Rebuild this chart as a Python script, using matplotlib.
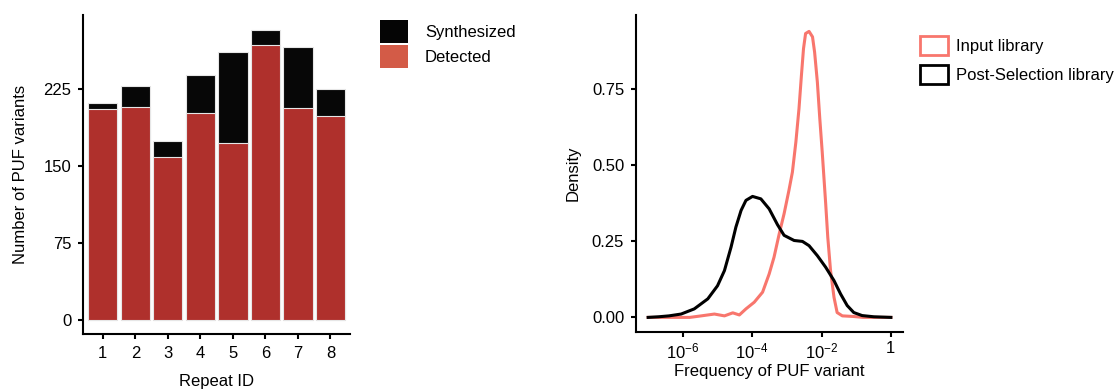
import numpy as np
import matplotlib
matplotlib.use("Agg")
import matplotlib.pyplot as plt
from matplotlib.patches import Patch

plt.rcParams['font.family'] = ['Liberation Sans', 'DejaVu Sans']
plt.rcParams['mathtext.default'] = 'regular'

# left panel: PUF variants per repeat
repeat_ids = [1, 2, 3, 4, 5, 6, 7, 8]
synthesized = [211, 228, 174, 239, 261, 282, 266, 225]
detected = [206, 208, 159, 202, 173, 268, 207, 199]
y_ticks = [0, 75, 150, 225]

# right panel: density of log10 frequency
post_logf = [-7.0, -6.7, -6.4, -6.05, -5.67, -5.28, -5.0, -4.80, -4.61, -4.47, -4.32,
             -4.18, -3.99, -3.75, -3.51, -3.27, -3.08, -2.79, -2.55, -2.36, -2.12, -1.88,
             -1.64, -1.45, -1.26, -1.07, -0.83, -0.49, 0.0]
post_dens = [0.0, 0.002, 0.005, 0.011, 0.028, 0.061, 0.104, 0.154, 0.231, 0.297, 0.352,
             0.385, 0.398, 0.390, 0.357, 0.305, 0.270, 0.253, 0.250, 0.236, 0.203, 0.165,
             0.121, 0.077, 0.039, 0.016, 0.006, 0.002, 0.0]
input_logf = [-7.0, -5.8, -5.47, -5.09, -4.80, -4.56, -4.37, -4.18, -3.94, -3.70, -3.51,
              -3.37, -3.22, -3.08, -2.94, -2.84, -2.74, -2.65, -2.58, -2.52, -2.46, -2.36,
              -2.26, -2.20, -2.12, -2.05, -1.98, -1.88, -1.82, -1.74, -1.64, -1.55, -1.40,
              -1.08, -0.8, 0.0]
input_dens = [0.0, 0.0, 0.005, 0.011, 0.005, 0.015, 0.008, 0.028, 0.050, 0.083, 0.143,
              0.198, 0.275, 0.341, 0.418, 0.478, 0.577, 0.687, 0.796, 0.884, 0.934, 0.941,
              0.923, 0.873, 0.774, 0.654, 0.544, 0.374, 0.264, 0.154, 0.066, 0.016, 0.005,
              0.003, 0.0, 0.0]
dens_ticks = [0.0, 0.25, 0.5, 0.75]
dens_labels = ['0.00', '0.25', '0.50', '0.75']
freq_ticks = [1e-6, 1e-4, 1e-2, 1]
freq_labels = ['$10^{-6}$', '$10^{-4}$', '$10^{-2}$', '1']

red_bar = '#AF302C'
red_key = '#D35B47'
pink = '#F8766D'
fs = 12

fig = plt.figure(figsize=(11.18, 3.89), dpi=100)


def style_axes(ax):
    for s in ['top', 'right']:
        ax.spines[s].set_visible(False)
    for s in ['left', 'bottom']:
        ax.spines[s].set_linewidth(1.5)
    ax.tick_params(width=1.5, length=3.5, labelsize=fs, colors='black', pad=5)


# bars
ax1 = fig.add_axes([0.0745, 0.1406, 0.2385, 0.8208])
ax1.bar(repeat_ids, synthesized, width=0.9, color='#070707', edgecolor='#e6e6e6', linewidth=0.8)
ax1.bar(repeat_ids, detected, width=0.9, color=red_bar, edgecolor='#e6e6e6', linewidth=0.8)
ax1.set_xlim(0.4, 8.6)
ax1.set_ylim(-13.5, 297)
ax1.set_xticks(repeat_ids)
ax1.set_yticks(y_ticks)
style_axes(ax1)
ax1.set_xlabel('Repeat ID', fontsize=fs, labelpad=9)
ax1.set_ylabel('Number of PUF variants', fontsize=fs, labelpad=11)

fig.legend(handles=[Patch(facecolor='#050505', edgecolor='none', label='Synthesized'),
                    Patch(facecolor=red_key, edgecolor='none', label='Detected')],
           loc='upper left', bbox_to_anchor=(380 / 1118, 1 - 20 / 389), frameon=False,
           fontsize=fs, handlelength=1.7, handleheight=1.78, labelspacing=0.1,
           handletextpad=1.0, borderpad=0, borderaxespad=0)

# densities
ax2 = fig.add_axes([0.5689, 0.1458, 0.2388, 0.8157])
ax2.plot(10 ** np.array(input_logf), input_dens, color=pink, lw=2.2, solid_joinstyle='round')
ax2.plot(10 ** np.array(post_logf), post_dens, color='black', lw=2.2, solid_joinstyle='round')
ax2.set_xscale('log')
ax2.set_xlim(10 ** -7.35, 10 ** 0.35)
ax2.set_ylim(-0.049, 0.995)
ax2.set_xticks(freq_ticks)
ax2.set_xticklabels(freq_labels)
ax2.minorticks_off()
ax2.set_yticks(dens_ticks)
ax2.set_yticklabels(dens_labels)
style_axes(ax2)
ax2.tick_params(axis='x', pad=3)
ax2.set_xlabel('Frequency of PUF variant', fontsize=fs, labelpad=2)
ax2.set_ylabel('Density', fontsize=fs, labelpad=8)

fig.legend(handles=[Patch(facecolor='none', edgecolor=pink, lw=2, label='Input library'),
                    Patch(facecolor='none', edgecolor='black', lw=2, label='Post-Selection library')],
           loc='upper left', bbox_to_anchor=(920 / 1118, 1 - 36 / 389), frameon=False,
           fontsize=fs, handlelength=1.65, handleheight=1.38, labelspacing=0.6,
           handletextpad=0.5, borderpad=0, borderaxespad=0)

fig.savefig('out.png', dpi=100)
